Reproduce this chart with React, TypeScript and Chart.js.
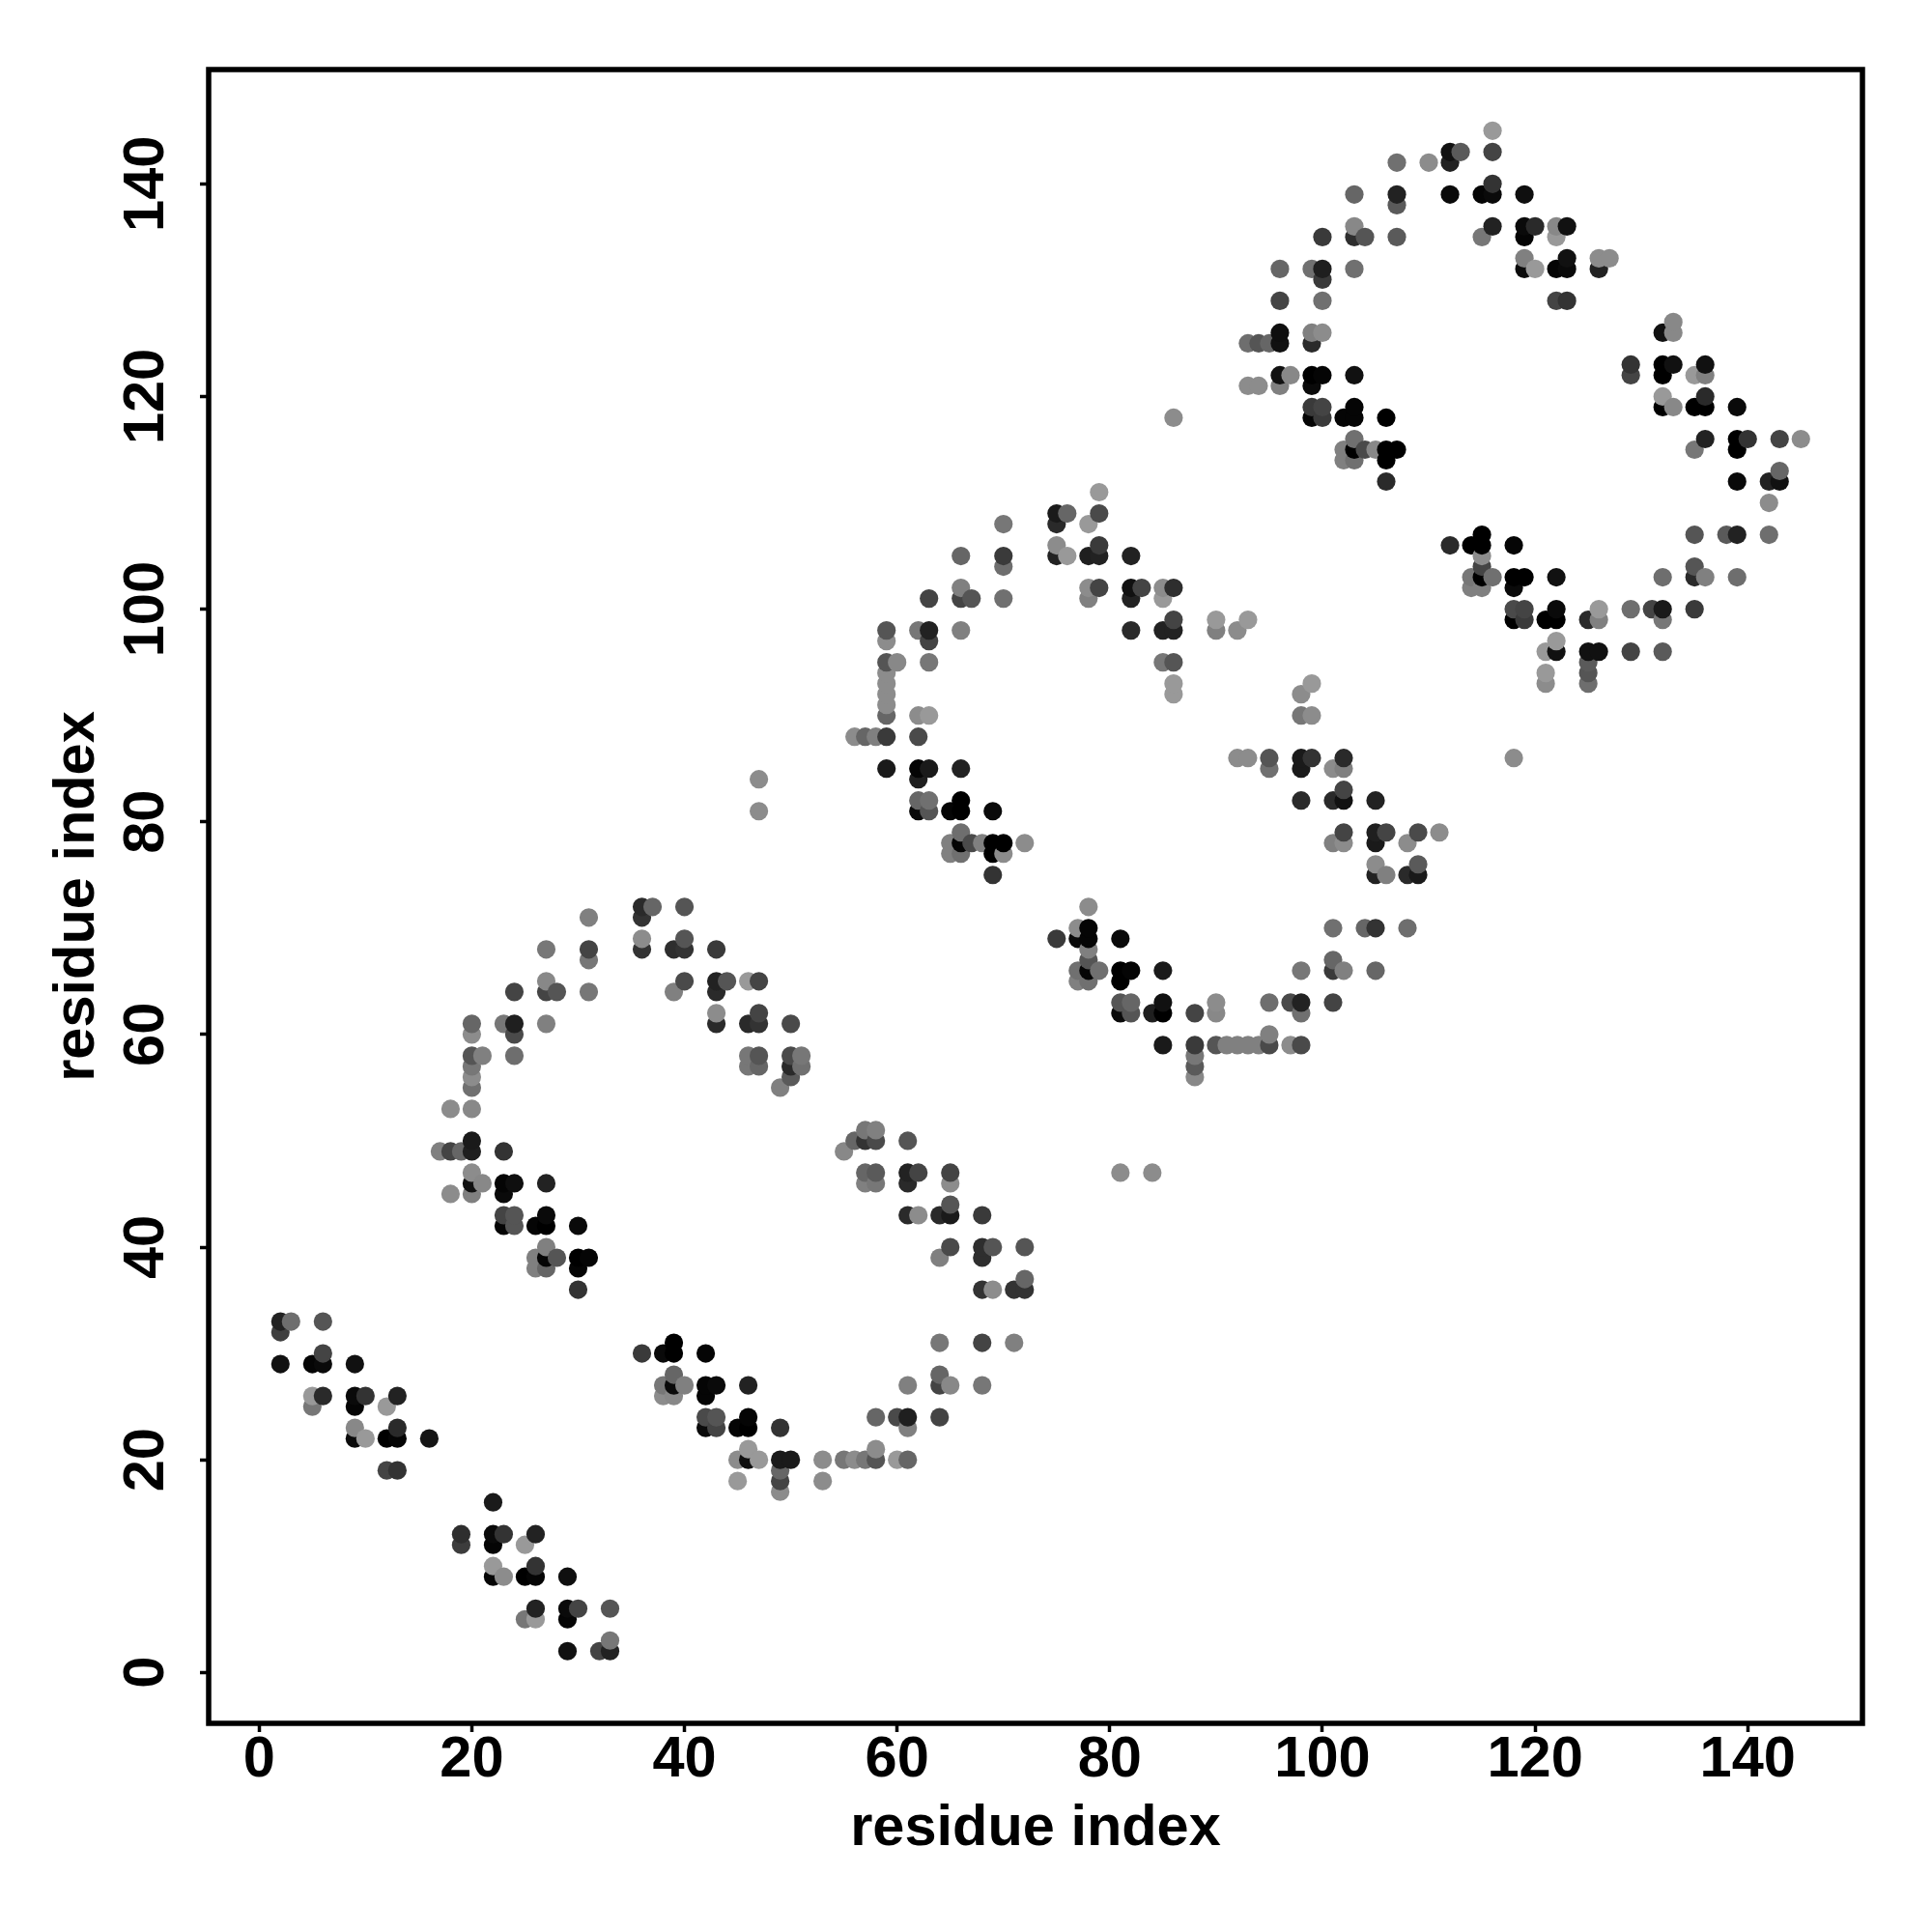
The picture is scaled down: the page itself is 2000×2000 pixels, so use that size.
import { useEffect, useRef } from "react";
import { Chart, registerables } from "chart.js";

Chart.register(...registerables);

const axisLabel = "residue index";
const tickStep = 20;
const xRange = [-4.75, 150.79];
const yRange = [-4.79, 150.75];

// One entry per x residue; y residues and grey shades line up with it. Order = drawing order.
const residueX = [
  2, 3, 5, 6, 9, 10, 12, 13, 16, 17, 18, 19, 20, 21, 22, 23, 24, 25, 26, 27, 28, 29, 30, 31, 32, 33,
  36, 37, 38, 39, 40, 42, 43, 44, 45, 46, 47, 49, 50, 51, 53, 55, 56, 57, 58, 59, 60, 61, 62, 63, 64,
  65, 66, 67, 68, 69, 70, 71, 72, 75, 76, 77, 78, 79, 81, 82, 83, 84, 85, 86, 88, 90, 91, 92, 93, 94,
  95, 96, 97, 98, 99, 100, 101, 102, 103, 104, 105, 106, 107, 108, 109, 110, 111, 112, 113, 114, 115,
  116, 118, 119, 120, 121, 122, 123, 125, 126, 127, 129, 131, 132, 133, 135, 136, 138, 139, 140, 142,
  143, 145,
];

const residueY = [
  [29, 32, 33], [33], [25, 26, 29], [26, 29, 30, 33], [22, 23, 25, 26, 29], [22, 26], [19, 22, 25],
  [19, 22, 23, 26], [22], [49], [45, 49, 53], [12, 13, 49],
  [45, 46, 47, 49, 50, 53, 55, 56, 57, 58, 60, 61], [46, 58], [9, 10, 12, 13, 16],
  [9, 13, 42, 43, 45, 46, 49, 61], [42, 43, 46, 58, 60, 61, 64], [5, 9, 12],
  [5, 6, 9, 10, 13, 38, 39, 42], [38, 39, 40, 42, 43, 46, 61, 64, 65, 68], [39, 64], [2, 5, 6, 9],
  [6, 36, 38, 39, 42], [39, 64, 67, 68, 71], [2], [2, 3, 6],
  [30, 68, 69, 71, 72], [72], [26, 27, 30], [26, 27, 28, 30, 31, 64, 68], [27, 65, 68, 69, 72],
  [23, 24, 26, 27, 30], [23, 24, 27, 61, 62, 64, 65, 68], [65], [18, 20, 23],
  [20, 21, 23, 24, 27, 57, 58, 61, 65], [20, 57, 58, 61, 62, 65, 81, 84], [17, 18, 19, 20, 23, 55],
  [20, 56, 57, 58, 61], [57, 58], [18, 20], [20, 49], [20, 50, 88], [20, 46, 47, 50, 51, 88],
  [20, 21, 24, 46, 47, 50, 51, 88], [85, 88, 90, 91, 92, 93, 94, 95, 97, 98], [20, 24, 95],
  [20, 23, 24, 27, 43, 46, 47, 50], [43, 47, 81, 82, 84, 85, 88, 90, 98],
  [81, 82, 85, 90, 95, 97, 98, 101], [24, 27, 28, 31, 39, 43],
  [27, 40, 43, 44, 46, 47, 77, 78, 81], [77, 78, 79, 81, 82, 85, 98, 101, 102, 105], [78, 101],
  [27, 31, 36, 39, 40, 43, 78], [36, 40, 75, 77, 78, 81], [77, 78, 101, 104, 105, 108], [31, 36],
  [36, 37, 40, 78], [69, 105, 106, 108, 109], [105, 109], [65, 66, 69, 70],
  [65, 66, 67, 68, 69, 70, 72, 101, 102, 105, 108], [66, 102, 105, 106, 109, 111],
  [47, 62, 63, 65, 66, 69], [62, 63, 66, 98, 101, 102, 105], [102], [47, 62],
  [59, 62, 63, 66, 95, 98, 101, 102], [92, 93, 95, 98, 99, 102, 118], [56, 57, 58, 59, 62],
  [59, 62, 63, 98, 99], [59], [59, 86, 98], [59, 86, 99, 121, 125], [59, 121, 125],
  [59, 60, 63, 85, 86, 125], [121, 122, 125, 126, 129, 132], [59, 63, 122],
  [59, 62, 63, 66, 82, 85, 86, 90, 92], [86, 90, 93, 118, 119, 121, 122, 125, 126, 132],
  [118, 119, 122, 126, 129, 131, 132, 135], [63, 66, 67, 70, 78, 82, 85],
  [66, 78, 79, 82, 83, 85, 86, 114, 115, 118], [114, 115, 116, 118, 119, 122, 132, 135, 136, 139],
  [70, 115, 135], [66, 70, 75, 76, 78, 79, 82, 115], [75, 79, 112, 114, 115, 118],
  [115, 135, 138, 139, 142], [70, 75, 78], [75, 76, 79], [142], [79], [106, 139, 142, 143], [143],
  [102, 103, 106], [102, 103, 104, 105, 106, 107, 135, 139], [103, 136, 139, 140, 143, 145],
  [86, 99, 100, 102, 103, 106], [99, 100, 103, 132, 133, 135, 136, 139], [132, 136], [93, 94, 96, 99],
  [96, 97, 99, 100, 103, 129, 132, 135, 136], [129, 132, 133, 136], [93, 94, 95, 96, 99],
  [96, 99, 100, 132, 133], [133], [96, 100, 122, 123], [100],
  [96, 99, 100, 103, 119, 120, 122, 123, 126], [119, 123, 126, 127],
  [100, 103, 104, 107, 115, 119, 122], [103, 116, 119, 120, 122, 123], [107],
  [103, 107, 112, 115, 116, 119], [116], [107, 110, 112], [112, 113, 116], [116],
];

const shadeGrey = [
  [0x11, 0x40, 0x22], [0x6e], [0x77, 0x99, 0x05], [0x2a, 0x0a, 0x44, 0x55], [0x0a, 0x88, 0x05, 0x0a, 0x11], [0x99, 0x33], [0x44, 0x00, 0x99],
  [0x33, 0x05, 0x2a, 0x22], [0x15], [0x80], [0x8c, 0x44, 0x8c], [0x3c, 0x2e, 0x66],
  [0x80, 0x11, 0x8c, 0x1f, 0x1a, 0x88, 0x70, 0x8c, 0x77, 0x55, 0x8c, 0x66], [0x88, 0x80], [0x05, 0x99, 0x05, 0x0a, 0x1a],
  [0x8c, 0x33, 0x05, 0x44, 0x0a, 0x05, 0x33, 0x77], [0x55, 0x55, 0x0f, 0x6e, 0x4a, 0x1f, 0x44], [0x77, 0x00, 0x99],
  [0x99, 0x22, 0x05, 0x33, 0x22, 0x80, 0x80, 0x05], [0x66, 0x05, 0x80, 0x00, 0x0a, 0x22, 0x80, 0x44, 0x88, 0x77], [0x55, 0x55], [0x11, 0x05, 0x0a, 0x0f],
  [0x44, 0x33, 0x05, 0x00, 0x0a], [0x05, 0x77, 0x77, 0x44, 0x80], [0x44], [0x22, 0x77, 0x55],
  [0x3a, 0x33, 0x8c, 0x33, 0x2a], [0x66], [0x8c, 0x77, 0x0a], [0x88, 0x0a, 0x66, 0x00, 0x00, 0x80, 0x2e], [0x80, 0x4a, 0x33, 0x55, 0x55],
  [0x0a, 0x4a, 0x05, 0x05, 0x05], [0x44, 0x55, 0x0a, 0x2a, 0x8c, 0x2a, 0x22, 0x3a], [0x55], [0x99, 0x8c, 0x05],
  [0x0f, 0x99, 0x00, 0x05, 0x22, 0x77, 0x77, 0x2a, 0x99], [0x99, 0x66, 0x55, 0x33, 0x44, 0x44, 0x8c, 0x8c], [0x8c, 0x44, 0x66, 0x1a, 0x33, 0x80],
  [0x1a, 0x5a, 0x2a, 0x4a, 0x4a], [0x70, 0x77], [0x8c, 0x8c], [0x77, 0x88], [0x8c, 0x66, 0x8c], [0x77, 0x80, 0x66, 0x33, 0x77, 0x66],
  [0x55, 0x8c, 0x66, 0x77, 0x5a, 0x4a, 0x80, 0x80], [0x1a, 0x3a, 0x66, 0x8c, 0x8c, 0x8c, 0x8c, 0x55, 0x8c, 0x55], [0x99, 0x4a, 0x88],
  [0x66, 0x80, 0x1f, 0x80, 0x2a, 0x2a, 0x22, 0x55], [0x8c, 0x44, 0x0a, 0x66, 0x1f, 0x05, 0x4a, 0x8c, 0x77],
  [0x55, 0x70, 0x1a, 0x99, 0x77, 0x44, 0x22, 0x44], [0x44, 0x44, 0x66, 0x77, 0x80, 0x2a],
  [0x88, 0x4a, 0x1a, 0x55, 0x8c, 0x44, 0x80, 0x80, 0x05], [0x70, 0x05, 0x6e, 0x00, 0x00, 0x22, 0x80, 0x44, 0x80, 0x66], [0x4a, 0x55],
  [0x77, 0x44, 0x33, 0x2e, 0x2e, 0x3a, 0x80], [0x8c, 0x55, 0x33, 0x00, 0x00, 0x0a], [0x8c, 0x00, 0x70, 0x6e, 0x3a, 0x77], [0x80, 0x33],
  [0x33, 0x66, 0x55, 0x8c], [0x3a, 0x22, 0x8c, 0x2a, 0x1a], [0x99, 0x66], [0x80, 0x70, 0x0a, 0x8c],
  [0x70, 0x05, 0x55, 0x80, 0x05, 0x05, 0x8c, 0x80, 0x8c, 0x1f, 0x99], [0x70, 0x44, 0x22, 0x3a, 0x4a, 0x99],
  [0x8c, 0x0a, 0x55, 0x00, 0x00, 0x0a], [0x55, 0x66, 0x05, 0x2a, 0x22, 0x11, 0x22], [0x44], [0x8c, 0x1f],
  [0x1a, 0x00, 0x11, 0x1a, 0x77, 0x22, 0x99, 0x8c], [0x99, 0x99, 0x55, 0x22, 0x44, 0x2e, 0x8c], [0x88, 0x5a, 0x77, 0x3a, 0x44],
  [0x55, 0x88, 0x8c, 0x80, 0x99], [0x80], [0x80, 0x8c, 0x8c], [0x80, 0x8c, 0x99, 0x8c, 0x6e], [0x80, 0x8c, 0x55],
  [0x4a, 0x80, 0x6e, 0x70, 0x55, 0x66], [0x80, 0x11, 0x11, 0x0f, 0x44, 0x66], [0x8c, 0x4a, 0x88],
  [0x4a, 0x70, 0x22, 0x77, 0x2a, 0x1a, 0x1a, 0x77, 0x8c], [0x33, 0x8c, 0x99, 0x05, 0x3a, 0x0a, 0x00, 0x2a, 0x80, 0x70],
  [0x3a, 0x44, 0x05, 0x8c, 0x70, 0x3a, 0x1f, 0x3a], [0x44, 0x3a, 0x66, 0x70, 0x80, 0x2a, 0x8c],
  [0x80, 0x8c, 0x44, 0x11, 0x44, 0x80, 0x2a, 0x80, 0x80, 0x05], [0x70, 0x00, 0x70, 0x05, 0x05, 0x11, 0x70, 0x2e, 0x88, 0x66],
  [0x66, 0x4a, 0x55], [0x66, 0x33, 0x22, 0x8c, 0x1a, 0x1f, 0x22, 0x88], [0x80, 0x44, 0x2a, 0x00, 0x00, 0x00],
  [0x00, 0x5a, 0x5a, 0x22, 0x70], [0x6e, 0x2a, 0x8c], [0x1a, 0x5a, 0x4a], [0x8c], [0x8c], [0x2a, 0x0a, 0x22, 0x11], [0x5a],
  [0x80, 0x77, 0x00], [0x80, 0x00, 0x44, 0x8c, 0x00, 0x00, 0x77, 0x05], [0x70, 0x22, 0x0a, 0x33, 0x44, 0x99],
  [0x8c, 0x00, 0x4a, 0x0a, 0x00, 0x05], [0x3a, 0x44, 0x00, 0x0a, 0x80, 0x05, 0x0a, 0x0f], [0x99, 0x2a], [0x8c, 0x99, 0x99, 0x00],
  [0x11, 0x99, 0x00, 0x0a, 0x11, 0x44, 0x05, 0x99, 0x88], [0x33, 0x0a, 0x11, 0x11], [0x6e, 0x55, 0x5a, 0x11, 0x2a],
  [0x11, 0x80, 0x99, 0x22, 0x8c], [0x8c], [0x44, 0x6e, 0x44, 0x33], [0x44],
  [0x5a, 0x77, 0x1a, 0x6e, 0x00, 0x99, 0x00, 0x00, 0x11], [0x88, 0x11, 0x88, 0x88],
  [0x3a, 0x2a, 0x55, 0x55, 0x77, 0x00, 0x99], [0x80, 0x22, 0x00, 0x2a, 0x80, 0x11], [0x5a],
  [0x6e, 0x22, 0x0a, 0x00, 0x00, 0x0a], [0x33], [0x6e, 0x8c, 0x22], [0x11, 0x66, 0x44], [0x8c],
];

const FONT = "'Liberation Sans', Arial, sans-serif";

const framePlugin = {
  id: "frame",
  afterDatasetsDraw(chart: any) {
    const { ctx, chartArea: a } = chart;
    ctx.save();
    ctx.strokeStyle = "#000";
    ctx.lineWidth = 5.5;
    ctx.lineJoin = "miter";
    ctx.strokeRect(a.left, a.top, a.right - a.left, a.bottom - a.top);
    ctx.restore();
  },
};

export default function App() {
  const ref = useRef<HTMLCanvasElement>(null);
  useEffect(() => {
    const points: { x: number; y: number }[] = [];
    const colors: string[] = [];
    residueX.forEach((x, i) => {
      residueY[i].forEach((y, j) => {
        const g = shadeGrey[i][j];
        points.push({ x, y });
        colors.push(`rgb(${g},${g},${g})`);
      });
    });
    const tickFont = { family: FONT, size: 59.5, weight: "bold" as const };
    const gridCommon = {
      drawOnChartArea: false,
      drawTicks: true,
      tickLength: 9,
      tickWidth: 3.5,
      tickColor: "#000",
    };
    const chart = new Chart(ref.current!, {
      type: "scatter",
      data: {
        datasets: [
          {
            data: points,
            backgroundColor: colors,
            pointRadius: 9.6,
            pointBorderWidth: 0,
            pointHoverRadius: 9.6,
            showLine: false,
            clip: false,
          } as any,
        ],
      },
      options: {
        responsive: false,
        animation: false,
        events: [],
        layout: { padding: { top: 72, right: 72, left: 0, bottom: 0 } },
        plugins: { legend: { display: false }, tooltip: { enabled: false }, title: { display: false } },
        scales: {
          x: {
            type: "linear",
            min: xRange[0],
            max: xRange[1],
            afterFit: (s: any) => {
              s.height = 216;
            },
            border: { display: false },
            grid: gridCommon,
            ticks: {
              stepSize: tickStep,
              includeBounds: false,
              autoSkip: false,
              maxRotation: 0,
              minRotation: 0,
              color: "#000",
              font: tickFont,
              padding: -6,
            },
            title: {
              display: true,
              text: axisLabel,
              color: "#000",
              font: tickFont,
              padding: { top: 0, bottom: 71 },
            },
          },
          y: {
            type: "linear",
            min: yRange[0],
            max: yRange[1],
            afterFit: (s: any) => {
              s.width = 216;
            },
            border: { display: false },
            grid: gridCommon,
            ticks: {
              stepSize: tickStep,
              includeBounds: false,
              autoSkip: false,
              minRotation: 90,
              maxRotation: 90,
              crossAlign: "center",
              color: "#000",
              font: tickFont,
              padding: 5,
            },
            title: {
              display: true,
              text: axisLabel,
              color: "#000",
              font: tickFont,
              padding: { top: 45, bottom: 0 },
            },
          },
        },
      },
      plugins: [framePlugin],
    } as any);
    return () => chart.destroy();
  }, []);
  return (
    <canvas
      ref={ref}
      width={2000}
      height={2000}
      style={{ position: "absolute", left: 0, top: 0, width: 2000, height: 2000, background: "#fff" }}
    />
  );
}
